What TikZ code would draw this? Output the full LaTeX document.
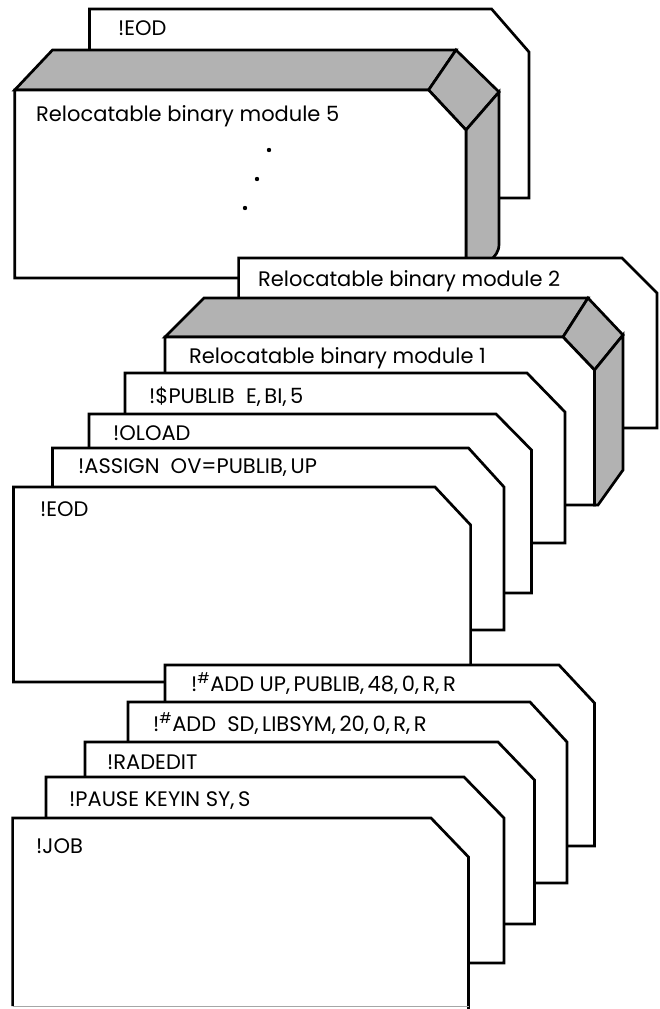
\documentclass[tikz,border=0pt]{standalone}
\usepackage{fontspec}
\setmainfont{Poppins}
\usepackage{tikz}
\usetikzlibrary{calc}

\begin{document}
\begin{tikzpicture}[x=1pt, y=-1pt,
      card/.style={draw=black, line width=2.7pt, fill=white, line join=miter},
      deckface/.style={card, fill=black!30},
      lbl/.style={anchor=base west, inner sep=0pt, font=\fontsize{21}{24}\selectfont},
      faint/.style={draw=black!35, line width=1pt}
    ]
    \useasboundingbox (0,0) rectangle (659,1009);
    % ---------------- back of the stack ----------------
    \draw[card] (89.5,9) -- (491.6,9) -- (529,52) -- (529,198) -- (89.5,198) -- cycle;
    \node[lbl] (eodtop) at (118,35) {!EOD};
    % deck ending with module 5
    \draw[deckface] (14.7,90) -- (52.5,50) -- (456,50) -- (428.6,90) -- cycle;
    \draw[deckface] (428.6,90) -- (456,50) -- (499,92) -- (466,130) -- cycle;
    \draw[deckface] (466,130) -- (499,92) -- (499,244)
      .. controls (499,252) and (495,256) .. (490,261) -- (466,261) -- cycle;
    \draw[card] (14.7,90) -- (428.6,90) -- (466,130) -- (466,278) -- (14.7,278) -- cycle;
    \node[lbl] (mod5) at (36,121) {Relocatable binary module 5};
    \fill (269,150) circle (2.2) coordinate (dotA);
    \fill (257,179) circle (2.2) coordinate (dotB);
    \fill (245,208) circle (2.2) coordinate (dotC);
    \draw[card] (238.6,258) -- (622,258) -- (657,293) -- (657,428) -- (238.6,428) -- cycle;
    \node[lbl] (mod2) at (258,286) {Relocatable binary module 2};
    % deck ending with module 1
    \draw[deckface] (165,337) -- (204,298) -- (588,298) -- (563,337) -- cycle;
    \draw[deckface] (563,337) -- (588,298) -- (623,335) -- (594.5,370) -- cycle;
    \draw[deckface] (594.5,370) -- (623,335) -- (623,470) -- (598,505) -- (594.5,505) -- cycle;
    \draw[card] (165,337) -- (563,337) -- (594.5,370) -- (594.5,505) -- (165,505) -- cycle;
    \node[lbl] (mod1) at (189,363) {Relocatable binary module 1};
    % ---------------- control cards ----------------
    \draw[card] (125,373) -- (527,373) -- (565,412) -- (565,543) -- (125,543) -- cycle;
    \node[lbl] (publib) at (149,403) {!\$PUBLIB\ \ E,\,BI,\,5};
    \draw[card] (89,414) -- (496,414) -- (531.5,450) -- (531.5,593) -- (89,593) -- cycle;
    \node[lbl] (oload) at (113,440) {!OLOAD};
    \draw[card] (52.5,448) -- (468.5,448) -- (504,487) -- (504,630) -- (52.5,630) -- cycle;
    \node[lbl] (assign) at (78,473) {!ASSIGN\ \ OV=PUBLIB,\,UP};
    \draw[card] (13.5,487) -- (435,487) -- (470.6,525) -- (470.6,682) -- (13.5,682) -- cycle;
    \node[lbl] (eod) at (40,516) {!EOD};
    \draw[card] (165,665) -- (559,665) -- (594.5,703) -- (594.5,846) -- (165,846) -- cycle;
    \node[lbl] (addup) at (191,691) {!\textsuperscript{\#}ADD UP,\,PUBLIB,\,48,\,0,\,R,\,R};
    \draw[card] (128,702) -- (530,702) -- (567,742) -- (567,883) -- (128,883) -- cycle;
    \node[lbl] (addsd) at (153,731) {!\textsuperscript{\#}ADD\ \ SD,\,LIBSYM,\,20,\,0,\,R,\,R};
    \draw[card] (85,742) -- (498,742) -- (534.5,780) -- (534.5,924) -- (85,924) -- cycle;
    \node[lbl] (radedit) at (107,769) {!RADEDIT};
    \draw[card] (46,777) -- (464,777) -- (504,818) -- (504,963) -- (46,963) -- cycle;
    \node[lbl] (pause) at (69,806) {!PAUSE KEYIN SY,\,S};
    % ---------------- front card ----------------
    \fill[white] (12.6,818) -- (431,818) -- (468.5,857) -- (468.5,1009) -- (12.6,1009) -- cycle;
    \draw[card, fill=none] (12.6,1006) -- (12.6,818) -- (431,818) -- (468.5,857) -- (468.5,1009);
    \draw[faint] (12.6,1006) -- (468.5,1006);
    \node[lbl] (job) at (36,853) {!JOB};
  \end{tikzpicture}
\end{document}
